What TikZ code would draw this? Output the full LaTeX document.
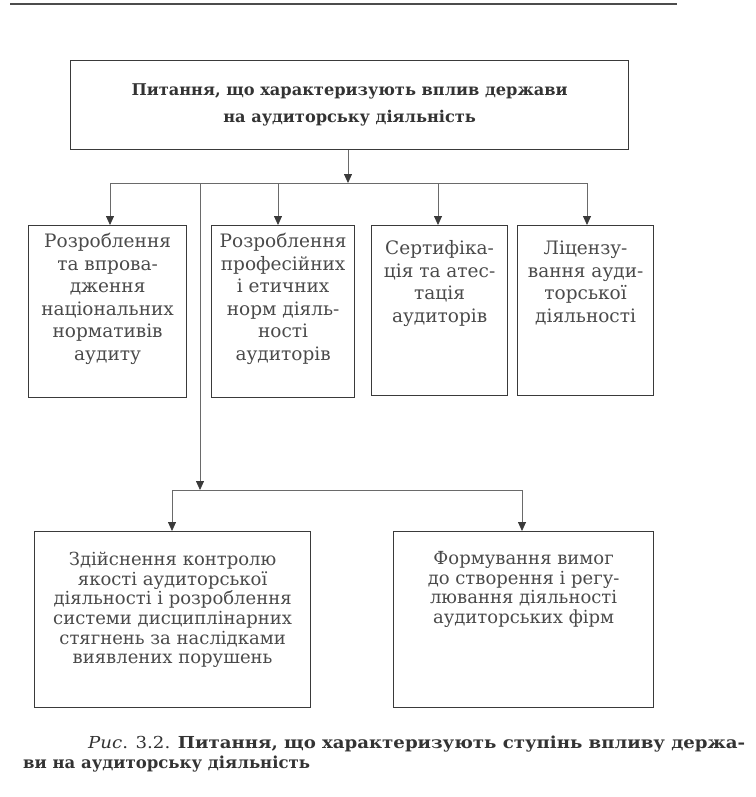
\documentclass[tikz,border=0pt]{standalone}
\usepackage{fontspec}
\setmainfont{DejaVu Serif}
\usetikzlibrary{arrows.meta}
\definecolor{ink}{HTML}{4A4A4A}
\definecolor{frame}{HTML}{3A3A3A}
\definecolor{wire}{HTML}{6A6A6A}
\newcommand{\cellbox}[4]{\parbox[c][#1][t]{#2}{\centering\rule{0pt}{#3}#4\par}}
\tikzset{
  box/.style={draw=frame, line width=1.2pt, inner sep=0pt, anchor=north west, text=ink},
  rowfont/.style={font=\fontsize{18.5}{22.5}\selectfont},
  lowfont/.style={font=\fontsize{18}{19.6}\selectfont},
  wirel/.style={draw=wire, line width=0.8pt},
  arr/.style={wirel, -{Triangle[width=8pt,length=9pt,color=frame]}}
}
\begin{document}
\begin{tikzpicture}[x=1pt,y=-1pt]
\useasboundingbox (0,0) rectangle (755,797);
% top rule
\draw[line width=1.8pt, black!70] (10,4) -- (677,4);
% main box
\node[box, minimum width=558pt, minimum height=89pt, align=center, text=black!80,
      font=\bfseries\fontsize{16.2}{27}\selectfont] (top) at (70,60)
  {Питання, що характеризують вплив держави\\на аудиторську діяльність};
% row 1
\node[box, rowfont] (b1) at (28,225) {\cellbox{172pt}{158pt}{22pt}{Розроблення\\та впрова-\\дження\\національних\\нормативів\\аудиту}};
\node[box, rowfont] (b2) at (211,225) {\cellbox{172pt}{143pt}{22pt}{Розроблення\\професійних\\і етичних\\норм діяль-\\ності\\аудиторів}};
\node[box, rowfont] (b3) at (371,225) {\cellbox{170pt}{136pt}{29pt}{Сертифіка-\\ція та атес-\\тація\\аудиторів}};
\node[box, rowfont] (b4) at (517,225) {\cellbox{170pt}{136pt}{29pt}{Ліцензу-\\вання ауди-\\торської\\діяльності}};
% row 2
\node[box, lowfont] (b5) at (34,531) {\cellbox{176pt}{276pt}{34pt}{Здійснення контролю\\якості аудиторської\\діяльності і розроблення\\системи дисциплінарних\\стягнень за наслідками\\виявлених порушень}};
\node[box, lowfont] (b6) at (393,531) {\cellbox{176pt}{260pt}{33pt}{Формування вимог\\до створення і регу-\\лювання діяльності\\аудиторських фірм}};
% junction coordinates
\coordinate (j0) at (348,183);
\coordinate (h1) at (110,183);
\coordinate (h2) at (278,183);
\coordinate (h3) at (438,183);
\coordinate (h4) at (587,183);
\coordinate (v0) at (200,183);
\coordinate (k0) at (200,490);
\coordinate (k1) at (172,490);
\coordinate (k2) at (522,490);
% connectors
\draw[arr] (top.south -| j0) -- (j0);
\draw[wirel] (h1) -- (h4);
\draw[arr] (h1) -- (h1 |- b1.north);
\draw[arr] (h2) -- (h2 |- b2.north);
\draw[arr] (h3) -- (h3 |- b3.north);
\draw[arr] (h4) -- (h4 |- b4.north);
\draw[arr] (v0) -- (k0);
\draw[wirel] (k1) -- (k2);
\draw[arr] (k1) -- (k1 |- b5.north);
\draw[arr] (k2) -- (k2 |- b6.north);
% caption
\node[anchor=base west, inner sep=0pt, text=black!80, font=\fontsize{16.5}{20}\selectfont\addfontfeature{FakeStretch=1.1}] (cap1) at (88,748)
  {\makebox[657pt][s]{\textit{Рис}. 3.2. \textbf{Питання, що характеризують ступінь впливу держа-}}};
\node[anchor=base west, inner sep=0pt, text=black!80, font=\bfseries\fontsize{16.5}{20}\selectfont] (cap2) at (23,768)
  {ви на аудиторську діяльність};
\end{tikzpicture}
\end{document}
